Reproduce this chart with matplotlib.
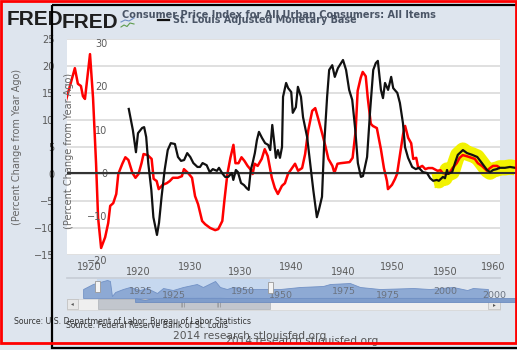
import matplotlib
matplotlib.use("Agg")
import matplotlib.pyplot as plt
from matplotlib.patches import Rectangle
from matplotlib.transforms import blended_transform_factory

W, H = 517, 350

# ---------------- data ----------------
cpi_years = [1917.7, 1918.6, 1918.9, 1919.2, 1919.4, 1919.6, 1920.1, 1920.4, 1920.7, 1920.9,
             1921.2, 1921.6, 1921.9, 1922.1, 1922.4, 1922.7, 1922.9, 1923.3, 1923.6, 1923.9,
             1924.3, 1924.6, 1924.9, 1925.2, 1925.4, 1925.8, 1926.2, 1926.4, 1926.7, 1926.9,
             1927.3, 1927.7, 1928.0, 1928.3, 1928.8, 1929.2, 1929.4, 1929.8, 1930.2, 1930.5,
             1930.8, 1931.2, 1931.5, 1932.0, 1932.5, 1932.8, 1933.2, 1933.4, 1933.7, 1934.0,
             1934.3, 1934.5, 1934.8, 1935.1, 1935.4, 1935.7, 1936.1, 1936.2, 1936.4, 1936.7,
             1937.1, 1937.4, 1937.7, 1938.1, 1938.4, 1938.7, 1939.1, 1939.4, 1939.7, 1940.1,
             1940.4, 1940.7, 1941.1, 1941.4, 1941.7, 1942.1, 1942.4, 1942.7, 1943.1, 1943.4,
             1943.7, 1944.1, 1944.3, 1944.6, 1944.9, 1945.8, 1946.1, 1946.4, 1946.6, 1946.9,
             1947.1, 1947.4, 1947.6, 1947.9, 1948.1, 1948.5, 1948.9, 1949.2, 1949.5, 1949.6,
             1950.0, 1950.3, 1950.5, 1950.8, 1951.1, 1951.3, 1951.6, 1951.9, 1952.1, 1952.4,
             1952.6, 1953.0, 1953.3, 1953.6, 1954.0, 1954.5, 1954.8, 1955.0, 1955.4, 1955.7,
             1956.0, 1956.4, 1956.7, 1957.0, 1957.4, 1957.9, 1958.2, 1958.5, 1958.9, 1959.4,
             1959.7, 1960.0, 1960.4, 1960.7]
cpi_values = [13.5, 19.6, 16.7, 16.3, 14.4, 13.9, 22.2, 14.1, 1.9, -8.1,
              -13.7, -11.7, -9.1, -5.9, -5.4, -3.7, 0.0, 1.9, 3.1, 2.6,
              0.2, -0.7, 0.0, 2.0, 3.7, 3.5, 2.8, -0.9, -1.3, -2.8,
              -2.0, -1.7, -1.3, -0.7, -0.7, -0.4, 0.9, 0.2, -0.7, -4.1,
              -5.6, -8.7, -9.3, -10.0, -10.4, -10.2, -8.7, -5.0, 0.0, 3.0,
              5.4, 2.0, 2.0, 3.1, 2.4, 1.5, 0.6, 0.0, 1.9, 1.5,
              2.8, 4.6, 3.3, -0.7, -2.6, -3.7, -2.2, -1.7, 0.0, 1.1,
              1.9, 0.6, 1.1, 3.7, 8.0, 11.7, 12.2, 10.2, 7.4, 5.2,
              2.8, 1.5, 0.2, 1.9, 2.0, 2.2, 3.0, 8.0, 15.4, 17.8,
              18.9, 18.1, 14.1, 9.3, 8.9, 8.5, 4.6, 1.1, -1.3, -2.8,
              -2.0, -0.9, 0.0, 3.7, 7.4, 8.9, 6.7, 5.7, 2.8, 3.0,
              1.1, 1.5, 0.9, 1.1, 1.1, 0.6, 0.7, 0.2, 0.0, 0.2,
              1.1, 2.0, 3.0, 3.5, 3.3, 3.0, 2.8, 2.0, 1.5, 0.6,
              1.1, 1.5, 1.5, 1.1]

base_years = [1919.1, 1919.5, 1919.8, 1920.0, 1920.4, 1920.6, 1920.8, 1921.0, 1921.3, 1921.5,
              1921.85, 1922.05, 1922.3, 1922.6, 1922.9, 1923.2, 1923.6, 1923.9, 1924.2, 1924.5,
              1924.8, 1925.1, 1925.4, 1925.8, 1926.05, 1926.3, 1926.7, 1927.0, 1927.3, 1927.7,
              1927.9, 1928.2, 1928.5, 1928.8, 1929.15, 1929.3, 1929.55, 1929.75, 1930.05, 1930.35,
              1930.6, 1930.8, 1931.0, 1931.2, 1931.4, 1931.6, 1931.8, 1932.1, 1932.4, 1932.7,
              1932.9, 1933.1, 1933.3, 1933.45, 1933.65, 1933.85, 1934.05, 1934.15, 1934.45, 1934.65,
              1934.95, 1935.1, 1935.4, 1935.6, 1935.9, 1936.1, 1936.5, 1936.8, 1937.1, 1937.45,
              1937.65, 1937.95, 1938.15, 1938.45, 1938.65, 1938.95, 1939.2, 1939.5, 1940.0, 1940.3,
              1940.6, 1940.9, 1941.2, 1941.45, 1941.75, 1941.95, 1942.35, 1942.65, 1942.95, 1943.2,
              1943.4, 1943.7, 1943.9, 1944.1, 1944.4, 1944.7, 1944.9, 1945.3, 1945.55, 1945.85,
              1946.05, 1946.35, 1946.75, 1947.1, 1947.4, 1947.8, 1948.2, 1948.5, 1948.8, 1949.15,
              1949.35, 1949.75, 1949.95, 1950.15, 1950.25, 1950.65, 1950.95, 1951.2, 1951.7, 1952.1,
              1952.6, 1953.1, 1953.55, 1954.05, 1954.35, 1954.65, 1955.0, 1955.3, 1955.8, 1956.3,
              1956.8]
base_values = [14.8, 9.9, 4.8, 9.2, 10.4, 10.6, 8.3, 2.3, -3.9, -10.2,
               -14.3, -11.5, -5.5, 0.7, 5.3, 6.9, 6.7, 3.7, 2.8, 3.0,
               4.6, 3.7, 2.3, 1.4, 1.4, 2.3, 1.8, 0.2, 0.9, 0.5,
               1.2, 0.0, -0.9, -0.9, 0.0, -1.6, 0.7, 0.2, -2.3, -2.8,
               -3.5, -3.9, 0.7, 2.5, 4.6, 7.6, 9.5, 8.1, 6.9, 6.5,
               5.3, 11.1, 6.9, 3.5, 5.3, 3.5, 6.0, 17.6, 20.8, 19.6,
               18.7, 13.9, 15.2, 19.9, 17.6, 12.9, 8.3, 2.3, -3.9, -10.2,
               -8.5, -5.5, 6.0, 17.6, 23.8, 24.9, 22.2, 24.2, 26.1, 23.8,
               19.2, 16.9, 9.9, 2.3, -0.9, -0.7, 3.7, 14.5, 23.8, 25.4,
               25.9, 19.2, 17.3, 20.8, 19.2, 22.2, 19.6, 18.5, 16.2, 11.5,
               6.0, 3.5, 1.4, 0.9, 1.2, 0.2, 0.0, -1.2, -1.8, -1.6,
               -1.8, -0.9, -1.2, 0.7, -0.2, 0.2, 2.5, 4.2, 5.3, 4.6,
               4.2, 3.7, 2.3, 0.7, 0.2, 0.7, 0.9, 1.2, 1.2, 1.4,
               1.2]
highlight_start = 1948.75

nav_cpi_years = [1913.7, 1916.1, 1919.6, 1920.3, 1920.8, 1921.6, 1923.5, 1925.2, 1927.7, 1929.4,
                 1931.9, 1933.4, 1935.8, 1938.3, 1941.7, 1943.2, 1946.2, 1947.4, 1949.1, 1950.6,
                 1954.1, 1957.3, 1962.2, 1967.1, 1972.8, 1974.5, 1979.4, 1981.9, 1986.8, 1995.0,
                 1999.1, 2004.8, 2008.3, 2009.7, 2013.4]
nav_cpi_values = [3.1, 13.5, 21.9, 19.8, -11.5, -3.1, 3.1, 7.3, 1.0, 5.2,
                  -5.2, 5.2, 1.0, 7.3, 13.5, 7.3, 19.8, 7.3, 3.1, 7.3,
                  3.1, 3.1, 3.1, 7.3, 9.4, 13.5, 15.6, 7.3, 3.1, 5.2,
                  3.1, 7.3, 1.0, 5.2, 3.1]
nav_base_years = [1918.7, 1921.0, 1922.2, 1924.5, 1932.3, 1935.5, 1937.9, 1940.2, 1944.9,
                  1949.6, 1957.3, 1969.0, 1980.7, 1992.4, 2001.3, 2008.1, 2014.0]
nav_base_values = [6, -7, 1.5, 10.5, 14.5, 10.5, 14.5, 6, 10.5, 6, 7, 10.5, 9, 9, 6, 6, 6]

x1_ticks = [1920, 1930, 1940, 1950, 1960]
x2_ticks = [1920, 1930, 1940, 1950]
y1_ticks = [-15, -10, -5, 0, 5, 10, 15, 20, 25]
y2_ticks = [-20, -10, 0, 10, 20, 30]
nav_ticks = [1925, 1950, 1975, 2000]

title_cpi = "Consumer Price Index for All Urban Consumers: All Items"
title_base = "St. Louis Adjusted Monetary Base"
ylabel = "(Percent Change from Year Ago)"
source_cpi = "Source: U.S. Department of Labor: Bureau of Labor Statistics"
source_base = "Source: Federal Reserve Bank of St. Louis"
credit = "2014 research.stlouisfed.org"

# ---------------- styling helpers ----------------
BG = "#dee5ee"
TICK = "#5a5a5a"


def rect(l, t, r, b):
    return [l / W, 1 - b / H, (r - l) / W, (b - t) / H]


def fx(x):
    return x / W


def fy(y):
    return 1 - y / H


fig = plt.figure(figsize=(W / 100, H / 100), dpi=100)
fig.patch.set_facecolor(BG)

# background UI (navigator selection, scrollbar)
ui_bg = fig.add_axes([0, 0, 1, 1], zorder=-5)
ui_bg.set_xlim(0, W)
ui_bg.set_ylim(H, 0)
ui_bg.set_facecolor("none")
ui_bg.axis("off")
ui_bg.add_patch(Rectangle((97, 279), 173, 19, fc="#c6d8ef", ec="none"))
ui_bg.plot([67, 500], [278, 278], color="#c6ccd5", lw=1.2)
ui_bg.add_patch(Rectangle((67, 298.5), 433, 11, fc="#efefef", ec="#d4d4d4", lw=0.5))
ui_bg.add_patch(Rectangle((98, 299), 172, 10, fc="#c2c6cd", ec="#aeb2b8", lw=0.5))
ui_bg.add_patch(Rectangle((67, 299), 11, 10, fc="#e8e8e8", ec="#bdbdbd", lw=0.5))
ui_bg.add_patch(Rectangle((488, 300.5), 12, 8, fc="#e8e8e8", ec="#bdbdbd", lw=0.5))
ui_bg.text(72.5, 304, "\u25c2", fontsize=4, color="#555", ha="center", va="center")
ui_bg.text(494, 304.5, "\u25b8", fontsize=4, color="#555", ha="center", va="center")
for gx in (183, 219):
    ui_bg.text(gx, 304, "|||", fontsize=3.5, color="#777", ha="center", va="center")

# ---------------- chart 1 (CPI) ----------------
ax1 = fig.add_axes(rect(67, 39, 500, 255))
ax1.set_facecolor("white")
ax1.set_xlim(1917.822, 1960.693)
ax1.set_ylim(-15, 25)
ax1.set_xticks(x1_ticks)
ax1.set_yticks(y1_ticks)
ax1.yaxis.grid(True, color="#e0e0e0", lw=1.4)
ax1.set_axisbelow(True)
for s in ax1.spines.values():
    s.set_visible(False)
ax1.tick_params(axis="both", length=0, labelsize=7, labelcolor=TICK)
ax1.tick_params(axis="y", pad=9)
ax1.tick_params(axis="x", pad=5)
ax1.set_ylabel(ylabel, fontsize=7, color="#666666")
ax1.yaxis.set_label_coords(-0.104, 0.5)
ax1.plot(cpi_years, cpi_values, color="#ff0000", lw=1.8, zorder=3)

# ---------------- chart 2 (monetary base) ----------------
ax2 = fig.add_axes(rect(67, 39, 517, 262))
ax2.set_facecolor("none")
ax2.set_xlim(1913.073, 1956.976)
ax2.set_ylim(-20.55, 30.95)
ax2.set_xticks(x2_ticks)
ax2.set_yticks(y2_ticks)
for s in ax2.spines.values():
    s.set_visible(False)
ax2.tick_params(axis="both", length=0, labelsize=7, labelcolor=TICK)
ax2.tick_params(axis="y", pad=-29)
ax2.tick_params(axis="x", pad=3.5)
ax2.set_ylabel(ylabel, fontsize=7, color="#666666")
ax2.yaxis.set_label_coords(0.0155, 0.5)

hl_years = [y for y in base_years if y >= highlight_start]
hl_values = [v for y, v in zip(base_years, base_values) if y >= highlight_start]
# yellow highlight lies beneath the red CPI line
ax1.plot(hl_years, hl_values, color="#f2f200", lw=11, solid_capstyle="butt",
         transform=ax2.transData, clip_on=False, zorder=2)
ax2.axhline(0, color="#333333", lw=1.5, zorder=2)
ax2.plot(base_years, base_values, color="#111111", lw=1.6, zorder=3)

# ---------------- navigator ----------------
nav2 = fig.add_axes(rect(67, 282, 517, 302))
nav2.set_facecolor("none")
nav2.axis("off")
nav2.set_xlim(1902.75, 2008.14)
nav2.set_ylim(-20, 110)
nav2.fill_between(nav_base_years, nav_base_values, -20, color="#7f9dcb", lw=0.6,
                  edgecolor="#6d8cc0")

nav1 = fig.add_axes(rect(67, 278, 500, 298))
nav1.set_facecolor("none")
nav1.axis("off")
nav1.set_xlim(1909.73, 2016.38)
nav1.set_ylim(-15.6, 26)
nav1.fill_between(nav_cpi_years, nav_cpi_values, -15.6, color="#8aa7d3", alpha=0.95,
                  lw=0.6, edgecolor="#6f8fc4")

for ax in (nav1, nav2):
    tr = blended_transform_factory(ax.transData, ax.transAxes)
    for yr in nav_ticks:
        fig.text(yr, 0.3, str(yr), transform=tr, fontsize=6.8, color="#6b7380",
                 ha="left", va="center")

# ---------------- header and footer texts ----------------
fig.text(fx(7), fy(25), "FRED", fontsize=15, fontweight="bold", color="#1e1e1e",
         family=["Liberation Sans", "DejaVu Sans"], va="baseline")
fig.text(fx(62), fy(28), "FRED", fontsize=15, fontweight="bold", color="#1e1e1e",
         family=["Liberation Sans", "DejaVu Sans"], va="baseline")
fig.text(fx(122), fy(15), title_cpi, fontsize=7, fontweight="bold", color="#4a5566",
         va="center")
fig.text(fx(173), fy(20), title_base, fontsize=6.9, fontweight="bold", color="#4a5566",
         va="center")
fig.text(fx(14), fy(321), source_cpi, fontsize=5.6, color="#333333", va="center")
fig.text(fx(66), fy(326), source_base, fontsize=5.6, color="#333333", va="center")
fig.text(fx(173), fy(336), credit, fontsize=7.7, color="#555555", va="center")
fig.text(fx(225), fy(341), credit, fontsize=7.7, color="#555555", va="center")

# ---------------- overlay decorations ----------------
ui = fig.add_axes([0, 0, 1, 1], zorder=20)
ui.set_xlim(0, W)
ui.set_ylim(H, 0)
ui.set_facecolor("none")
ui.axis("off")
# navigator handles
ui.add_patch(Rectangle((95, 281), 5, 11, fc="#f4f4f4", ec="#999999", lw=0.6))
ui.add_patch(Rectangle((267.5, 282), 5, 11, fc="#f4f4f4", ec="#999999", lw=0.6))
# legend symbol of second series
ui.plot([158, 169], [20, 20], color="#111111", lw=1.6)
# small sparkline icon
ui.plot([121, 124, 127, 130, 134], [27, 25, 26.5, 23, 24], color="#5d9c4c", lw=0.8)
ui.plot([121, 125, 129, 134], [22, 20, 21, 18], color="#6f8fc4", lw=0.8)
# screenshot frames
ui.add_patch(Rectangle((52, 5.3), 480, 342.7, fc="none", ec="#000000", lw=1.6))
ui.add_patch(Rectangle((1.3, 1.3), 514.7, 341.2, fc="none", ec="#ff0000", lw=2.0))

fig.savefig("out.png", dpi=100, facecolor=fig.get_facecolor())
